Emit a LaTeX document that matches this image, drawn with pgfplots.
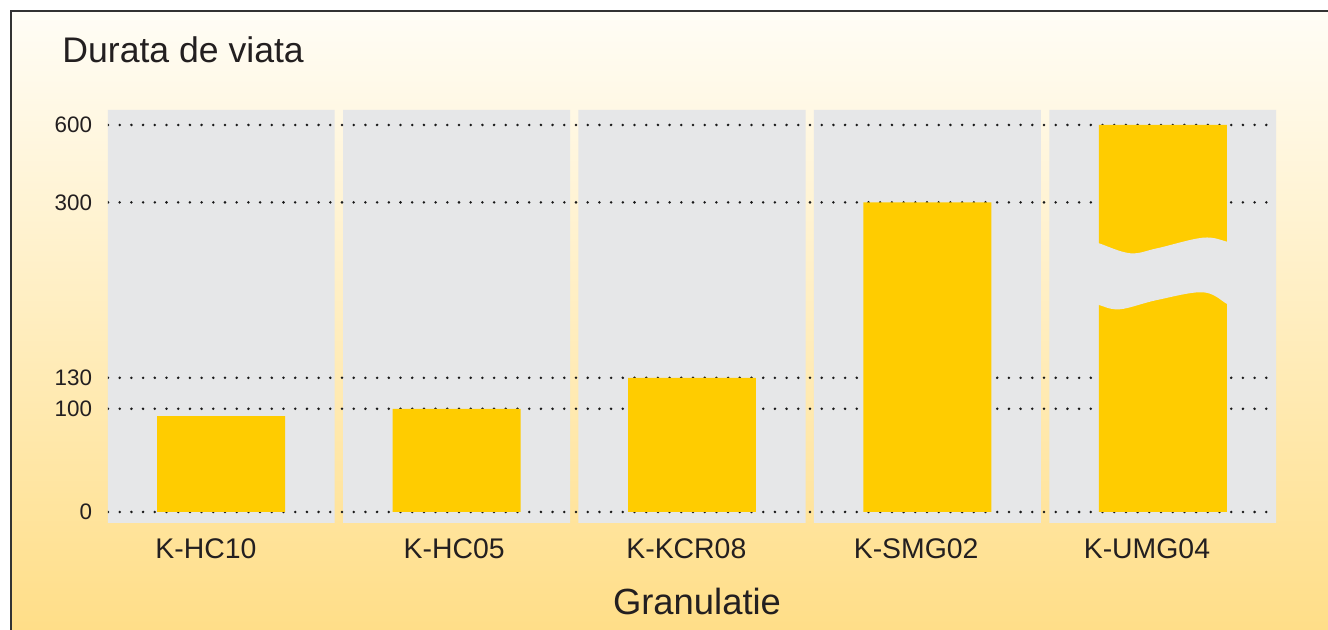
\documentclass[border=0pt]{standalone}
\usepackage{pgfplots}
\pgfplotsset{compat=1.18}
\usepackage{fontspec}
\setmainfont{Liberation Sans}
\definecolor{baryellow}{HTML}{FFCC00}
\definecolor{panelgray}{HTML}{E6E7E8}
\definecolor{bgtop}{HTML}{FFFDF6}
\definecolor{bgbottom}{HTML}{FFDE88}
\definecolor{txt}{HTML}{231F20}
\begin{document}
\begin{tikzpicture}[x=1pt,y=1pt]
\fill[white] (0,0) rectangle (664,315);
\shade[top color=bgtop, bottom color=bgbottom] (5.5,0) rectangle (664,309.5);
\draw[black!80, line width=1pt] (5.5,0) -- (5.5,309.5) -- (664,309.5);
\node[anchor=base west, font=\fontsize{17.8}{21}\selectfont, text=txt, inner sep=0pt] at (31,283.5) {Durata de viata};
\begin{axis}[
  at={(54pt,53.5pt)}, anchor=south west,
  scale only axis, width=584pt, height=206.5pt,
  xmin=-0.48, xmax=4.48,
  ymin=-10.66, ymax=658,
  y coord trafo/.code={\pgfmathparse{#1>300 ? 300+(#1-300)/4 : #1}},
  y coord inv trafo/.code={\pgfmathparse{#1>300 ? 300+(#1-300)*4 : #1}},
  xtick={-0.064,0.99,1.976,2.952,3.932},
  xticklabels={K-HC10,K-HC05,K-KCR08,K-SMG02,K-UMG04},
  ytick={0,100,130,300,600},
  yticklabels={0,100,130,300,600},
  axis line style={draw=none},
  major tick length=0pt,
  xticklabel style={font=\fontsize{14.2}{16}\selectfont, text=txt, inner sep=0pt, anchor=north, yshift=-7.5pt},
  yticklabel style={font=\fontsize{11.2}{13}\selectfont, text=txt, inner sep=0pt, anchor=east, xshift=-7.75pt},
  dotgrid/.style={black!90, line width=1.4pt, dash pattern=on 0pt off 5.85pt, line cap=round, mark=none, forget plot},
]
% gray panels behind each category
\addplot[ybar, bar width=0.964, bar shift=0pt, fill=panelgray, draw=none]
  coordinates {(0,658) (1,658) (2,658) (3,658) (4,658)};
\addplot[ybar, bar width=0.964, bar shift=0pt, fill=panelgray, draw=none]
  coordinates {(0,-10.66) (1,-10.66) (2,-10.66) (3,-10.66) (4,-10.66)};
% dotted grid lines at the tick values
\addplot[dotgrid] coordinates {(-0.48,0) (4.48,0)};
\addplot[dotgrid] coordinates {(-0.48,100) (4.48,100)};
\addplot[dotgrid] coordinates {(-0.48,130) (4.48,130)};
\addplot[dotgrid] coordinates {(-0.48,300) (4.48,300)};
\addplot[dotgrid] coordinates {(-0.48,600) (4.48,600)};
% bars
\addplot[ybar, bar width=0.5435, bar shift=0pt, fill=baryellow, draw=none]
  coordinates {(0,93) (1,100) (2,130) (3,300) (4,600)};
% axis-break wave on the last bar
\fill[panelgray] plot[smooth, tension=0.6] coordinates {(axis cs:3.70,262) (axis cs:3.728,260.4) (axis cs:3.86,250.7) (axis cs:3.975,255.5) (axis cs:4.17,265.8) (axis cs:4.272,261.9) (axis cs:4.30,260)}
  -- plot[smooth, tension=0.6] coordinates {(axis cs:4.30,199) (axis cs:4.272,201.6) (axis cs:4.17,212.9) (axis cs:3.975,205.4) (axis cs:3.817,196.4) (axis cs:3.728,200.6) (axis cs:3.70,203)} -- cycle;
\end{axis}
\node[anchor=base, font=\fontsize{18.2}{22}\selectfont, text=txt, inner sep=0pt] at (348.5,7.5) {Granulatie};
\pgfresetboundingbox
\useasboundingbox (0,0) rectangle (664,315);
\end{tikzpicture}
\end{document}
